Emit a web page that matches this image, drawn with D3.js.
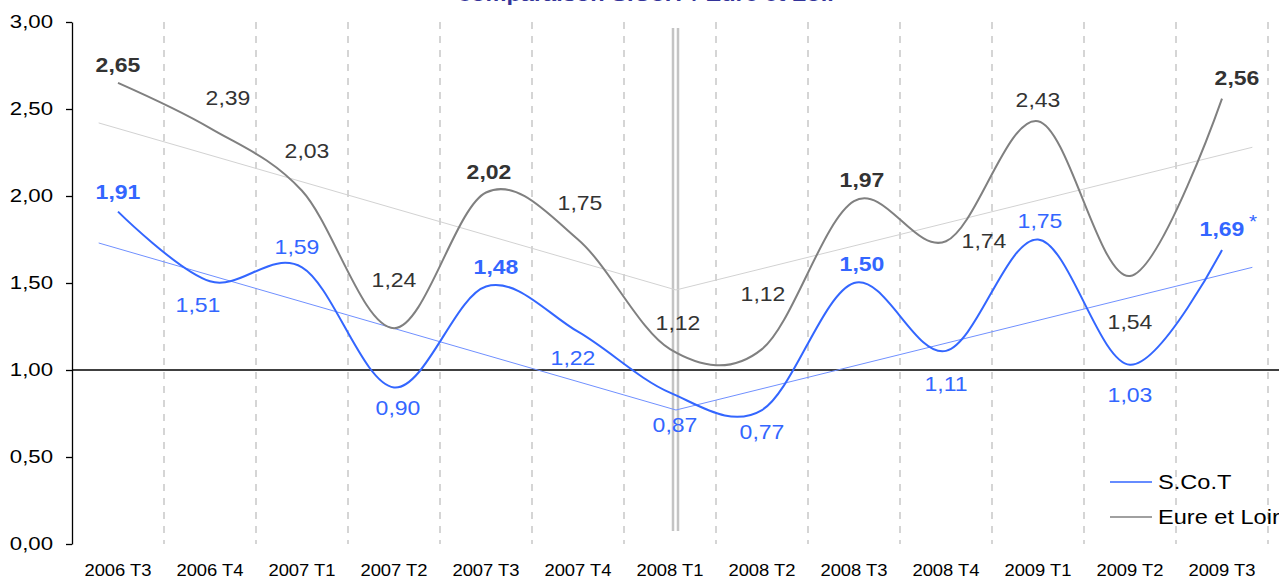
<!DOCTYPE html>
<html>
<head>
<meta charset="utf-8">
<script src="https://cdn.jsdelivr.net/npm/d3@7"></script>
<style>
  body { margin: 0; background: #fff; }
  svg { display: block; font-family: "Liberation Sans", Arial, sans-serif; }
</style>
</head>
<body>
<svg id="chart"></svg>
<script>
const categories = ["2006 T3", "2006 T4", "2007 T1", "2007 T2", "2007 T3", "2007 T4", "2008 T1",
    "2008 T2", "2008 T3", "2008 T4", "2009 T1", "2009 T2", "2009 T3"];
const scotValues = [1.91, 1.51, 1.59, 0.90, 1.48, 1.22, 0.87, 0.77, 1.50, 1.11, 1.75, 1.03, 1.69];
const eureValues = [2.65, 2.39, 2.03, 1.24, 2.02, 1.75, 1.12, 1.12, 1.97, 1.74, 2.43, 1.54, 2.56];
const boldLabels = [0, 4, 8, 12];
// trend lines: [category index, value]
const scotTrend = [[-0.21, 1.73], [6.065, 0.77], [12.33, 1.59]];
const eureTrend = [[-0.21, 2.42], [6.065, 1.46], [12.33, 2.28]];
const breakCategory = "2008 T1";
const yTicks = [0, 0.5, 1, 1.5, 2, 2.5, 3];
const seriesNames = ["S.Co.T", "Eure et Loir"];
const titleText = "comparaison S.Co.T / Eure et Loir";

// label offsets (px) from each point
const scotLabelPos = [[0, -20], [-12, 24], [-5, -20], [4, 21], [10, -19], [-5, 26], [5, 32],
    [0, 22], [8, -19], [0, 33], [2, -18], [0, 30], [0, -21]];
const eureLabelPos = [[0, -18], [18, -30], [5, -40], [0, -48], [3, -20], [2, -36], [8, -26],
    [1, -55], [8, -21], [38, 0], [0, -21], [0, 46], [15, -21]];

const W = 1279, H = 579;
const SX = 1.15; // text in the picture is a bit wide
const margin = { top: 22, left: 72, bottom: 35 };
const plotRight = 1268;
const fmt = v => d3.format(".2f")(v).replace(".", ",");

const svg = d3.select("#chart").attr("width", W).attr("height", H);

const x = d3.scaleBand().domain(categories).range([margin.left, plotRight]);
const xi = d3.scaleLinear().domain([0, categories.length - 1])
    .range([x(categories[0]) + x.bandwidth() / 2, x(categories[categories.length - 1]) + x.bandwidth() / 2]);
const y = d3.scaleLinear().domain([0, 3]).range([H - margin.bottom, margin.top]);

function putText(g, px, py, str, opts)
{
    return g.append("text")
        .attr("transform", "translate(" + px + "," + py + ") scale(" + (opts.sx || SX) + ",1)")
        .attr("text-anchor", opts.anchor || "middle")
        .attr("dominant-baseline", opts.baseline || "central")
        .style("font-size", opts.size + "px")
        .style("font-weight", opts.bold ? "bold" : "normal")
        .attr("fill", opts.color || "#000")
        .text(str);
}

// title (cut off at the top, as in the source picture)
putText(svg, 458, 0.5, titleText, { anchor: "start", baseline: "auto", size: 20.5, bold: true, color: "#333399" });

// dashed category separators
svg.append("g").selectAll("line")
    .data(categories)
    .join("line")
    .attr("x1", d => x(d) + x.bandwidth())
    .attr("x2", d => x(d) + x.bandwidth())
    .attr("y1", y(3))
    .attr("y2", y(0))
    .attr("stroke", "#c8c8c8")
    .attr("stroke-width", 1.5)
    .attr("stroke-dasharray", "7,7");

// double vertical marker
const bx = x(breakCategory) + x.bandwidth() / 2;
[3, 8].forEach(off =>
{
    svg.append("line")
        .attr("x1", bx + off).attr("x2", bx + off)
        .attr("y1", 28).attr("y2", 531)
        .attr("stroke", "#c4c4c4")
        .attr("stroke-width", 2.5);
});

// horizontal line at 1,00
svg.append("line")
    .attr("x1", margin.left).attr("x2", W)
    .attr("y1", y(1)).attr("y2", y(1))
    .attr("stroke", "#000")
    .attr("stroke-width", 1.3);

// y axis
const yAxis = svg.append("g")
    .attr("transform", "translate(" + margin.left + ",0)")
    .call(d3.axisLeft(y).tickValues(yTicks).tickSize(6).tickSizeOuter(0).tickFormat(fmt));
yAxis.select(".domain").attr("stroke", "#000").attr("stroke-width", 1.3);
yAxis.selectAll(".tick line").attr("stroke", "#000").attr("stroke-width", 1.3);
yAxis.selectAll(".tick text").remove();
yTicks.forEach(v => putText(svg, margin.left - 19, y(v), fmt(v), { anchor: "end", size: 18.5, sx: 1.2, color: "#000" }));

// x labels
categories.forEach(c => putText(svg, x(c) + x.bandwidth() / 2, 570, c, { size: 16, color: "#000" }));

// trend lines
const trendLine = d3.line().x(d => xi(d[0])).y(d => y(d[1]));
svg.append("path").attr("d", trendLine(eureTrend))
    .attr("fill", "none").attr("stroke", "#d2d2d2").attr("stroke-width", 1);
svg.append("path").attr("d", trendLine(scotTrend))
    .attr("fill", "none").attr("stroke", "#7090ff").attr("stroke-width", 1);

// series
const valueline = d3.line()
    .x((d, i) => xi(i))
    .y(d => y(d))
    .curve(d3.curveCatmullRom.alpha(0));

svg.append("path").attr("d", valueline(eureValues))
    .attr("fill", "none").attr("stroke", "#808080").attr("stroke-width", 2);
svg.append("path").attr("d", valueline(scotValues))
    .attr("fill", "none").attr("stroke", "#3366ff").attr("stroke-width", 2);

// data labels
eureValues.forEach((v, i) =>
{
    putText(svg, xi(i) + eureLabelPos[i][0], y(v) + eureLabelPos[i][1], fmt(v),
        { size: 20, bold: boldLabels.includes(i), color: "#333333" });
});
scotValues.forEach((v, i) =>
{
    putText(svg, xi(i) + scotLabelPos[i][0], y(v) + scotLabelPos[i][1], fmt(v),
        { size: 20, bold: boldLabels.includes(i), color: "#3366ff" });
});
// asterisk on the last S.Co.T value
const last = scotValues.length - 1;
putText(svg, xi(last) + 31, y(scotValues[last]) - 28, "*", { size: 18, color: "#3366ff" });

// legend
const legend = svg.append("g");
[["#3366ff", 482], ["#808080", 517]].forEach((s, i) =>
{
    legend.append("line")
        .attr("x1", 1110).attr("x2", 1152)
        .attr("y1", s[1]).attr("y2", s[1])
        .attr("stroke", s[0]).attr("stroke-width", 1.5);
    putText(legend, 1158, s[1], seriesNames[i], { anchor: "start", size: 20.5, color: "#000" });
});
</script>
</body>
</html>
